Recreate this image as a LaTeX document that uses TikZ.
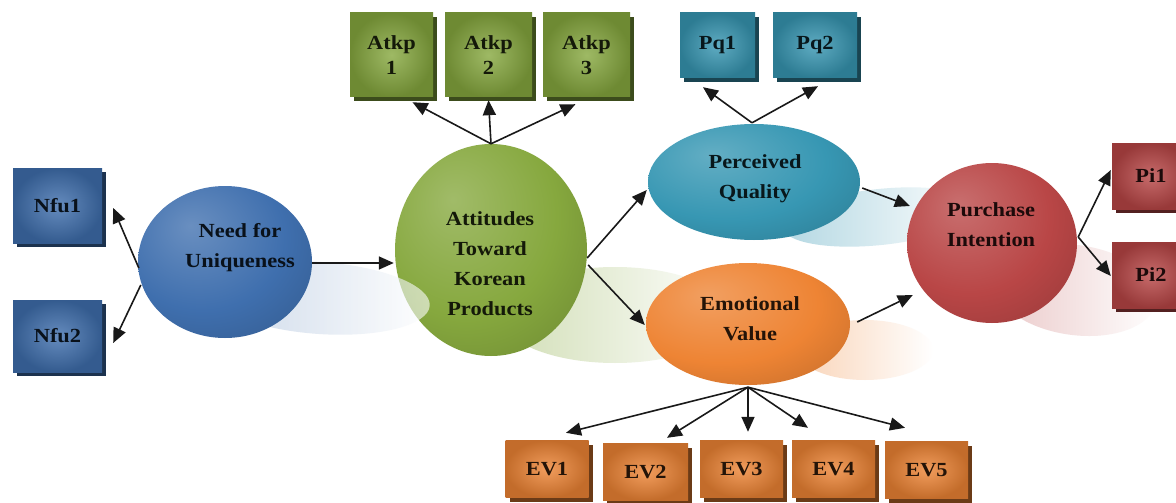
\documentclass[tikz,border=0pt]{standalone}
\usepackage{fontspec}
\setmainfont{Liberation Serif}[FakeStretch=1.12]
\usetikzlibrary{shapes.geometric,arrows.meta,shadows,calc}
\definecolor{cblue}{HTML}{3F6FAE}
\definecolor{cgreen}{HTML}{86A83E}
\definecolor{cteal}{HTML}{3797B3}
\definecolor{corange}{HTML}{EE8434}
\definecolor{cred}{HTML}{B94646}
\colorlet{shc}{white}
\pgfdeclareradialshading[shc]{orb}{\pgfpoint{-10bp}{12bp}}{color(0bp)=(shc!78!white); color(24bp)=(shc); color(52bp)=(shc!72!black); color(75bp)=(shc!72!black)}
\newcommand\lblfont{\fontsize{20}{30}\selectfont\bfseries}
\newcommand\boxfont{\fontsize{20}{25}\selectfont\bfseries}
\tikzset{
  arr/.style={draw=black!90, line width=1.6pt, -{Triangle[length=15pt,width=13pt]}},
  box/.style={rectangle, inner sep=0pt, inner color=#1!80!white, outer color=#1!82!black,
    drop shadow={shadow xshift=4pt, shadow yshift=-4pt, fill=#1!45!black, opacity=1},
    font=\boxfont, align=center, text=#1!15!black},
  lat/.style={ellipse, inner sep=0pt, /utils/exec={\colorlet{shc}{#1}}, shading=orb},
  lbl/.style={align=center, font=\lblfont, inner sep=0pt, text=#1!15!black},
}
\begin{document}
\begin{tikzpicture}[x=1pt,y=-1pt]
\clip (0,0) rectangle (1176,503);
\fill[white] (0,0) rectangle (1176,503);
% reflections
\shade[left color=cgreen!38!white, right color=white] (615,315) ellipse [x radius=115, y radius=48];
\shade[left color=cteal!38!white, right color=white, rotate around={6:(880,217)}] (880,217) ellipse [x radius=98, y radius=28];
\shade[left color=corange!35!white, right color=white] (865,350) ellipse [x radius=68, y radius=30];
\shade[left color=cred!30!white, right color=white, rotate around={-8:(1075,290)}] (1075,290) ellipse [x radius=82, y radius=45];
% latent variables
\node[lat=cgreen, minimum width=192, minimum height=212] (att) at (491,250) {};
\shade[left color=cblue!45!white, right color=white, fill opacity=0.6, rotate around={-4:(320,298)}] (320,298) ellipse [x radius=110, y radius=36];
\node[lat=cblue, minimum width=174, minimum height=152] (nfu) at (225,262) {};
\node[lat=cteal, minimum width=212, minimum height=116] (pq) at (754,182) {};
\node[lat=corange, minimum width=204, minimum height=122] (ev) at (748,324) {};
\node[lat=cred, minimum width=170, minimum height=160] (pi) at (992,243) {};
\node[lbl=cblue] (nfuT) at (240,248) {Need for\\Uniqueness};
\node[lbl=cgreen] (attT) at (490,264) {Attitudes\\Toward\\Korean\\Products};
\node[lbl=cteal] (pqT) at (755,179) {Perceived\\Quality};
\node[lbl=corange] (evT) at (750,319) {Emotional\\Value};
\node[lbl=cred] (piT) at (991,225) {Purchase\\Intention};
% indicators
\node[box=cblue, minimum width=89, minimum height=75] (nfu1) at (57.5,205.5) {Nfu1};
\node[box=cblue, minimum width=89, minimum height=72] (nfu2) at (57.5,336) {Nfu2};
\node[box=cgreen, minimum width=83, minimum height=84] (atkp1) at (391.5,55) {Atkp\\1};
\node[box=cgreen, minimum width=87, minimum height=84] (atkp2) at (488.5,55) {Atkp\\2};
\node[box=cgreen, minimum width=87, minimum height=84] (atkp3) at (586.5,55) {Atkp\\3};
\node[box=cteal, minimum width=75, minimum height=65] (pq1) at (717.5,45.5) {Pq1};
\node[box=cteal, minimum width=84, minimum height=65] (pq2) at (815,45.5) {Pq2};
\node[box=cred, minimum width=78, minimum height=66] (pi1) at (1151,176) {Pi1};
\node[box=cred, minimum width=78, minimum height=66] (pi2) at (1151,275) {Pi2};
\node[box=corange, minimum width=83, minimum height=57] (ev1) at (547,469) {EV1};
\node[box=corange, minimum width=85, minimum height=57] (ev2) at (645.5,472) {EV2};
\node[box=corange, minimum width=83, minimum height=57] (ev3) at (741.5,469) {EV3};
\node[box=corange, minimum width=83, minimum height=57] (ev4) at (833.5,469) {EV4};
\node[box=corange, minimum width=83, minimum height=57] (ev5) at (926.5,470) {EV5};
% connectors
\draw[arr] ($(nfu.west)+(1,6)$) -- ($(nfu1.east)+(11,2.5)$);
\draw[arr] ($(nfu.west)+(3,23)$) -- ($(nfu2.east)+(11,7)$);
\draw[arr] ($(nfu.east)+(0,1)$) -- ($(att.west)+(-1,13)$);
\draw[arr] (att.north) -- ($(atkp1.south)+(21,5)$);
\draw[arr] (att.north) -- ($(atkp2.south)+(0,3)$);
\draw[arr] (att.north) -- ($(atkp3.south)+(-11,7)$);
\draw[arr] ($(att.east)+(0,8)$) -- ($(pq.west)+(-1,8)$);
\draw[arr] ($(att.east)+(1,15)$) -- ($(ev.west)+(-1,1)$);
\draw[arr] ($(pq.north)+(-2,-1)$) -- ($(pq1.south)+(-14.5,9)$);
\draw[arr] ($(pq.north)+(-2,-1)$) -- ($(pq2.south)+(3,8)$);
\draw[arr] ($(pq.east)+(2,6)$) -- ($(pi.west)+(3,-37)$);
\draw[arr] ($(ev.east)+(7,-2)$) -- ($(pi.west)+(6,52)$);
\coordinate (evs) at ($(ev.south)+(0,2)$);
\draw[arr] (evs) -- ($(ev1.north)+(19,-7.5)$);
\draw[arr] (evs) -- ($(ev2.north)+(21.5,-5.5)$);
\draw[arr] (evs) -- ($(ev3.north)+(6.5,-8.5)$);
\draw[arr] (evs) -- ($(ev4.north)+(-25.5,-12.5)$);
\draw[arr] (evs) -- ($(ev5.north)+(-21.5,-13.5)$);
\coordinate (pis) at ($(pi.east)+(1,-6)$);
\draw[arr] (pis) -- ($(pi1.west)+(-1,-6)$);
\draw[arr] (pis) -- ($(pi2.west)+(-1,1)$);
\end{tikzpicture}
\end{document}
